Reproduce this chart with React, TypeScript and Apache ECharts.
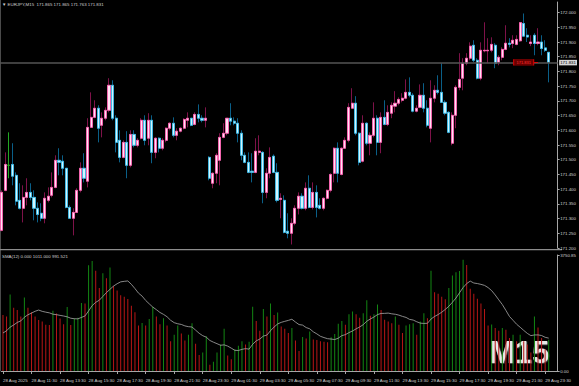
import { useEffect, useRef } from "react";
import * as echarts from "echarts";

const opens = [
  171.260,171.396,171.481,171.484,171.447,171.362,171.335,171.372,171.389,171.372,
  171.335,171.318,171.301,171.362,171.379,171.406,171.498,171.495,171.471,171.338,
  171.301,171.321,171.396,171.471,171.427,171.610,171.644,171.675,171.617,171.641,
  171.668,171.753,171.641,171.566,171.508,171.559,171.481,171.586,171.549,171.573,
  171.634,171.573,171.634,171.525,171.573,171.539,171.566,171.607,171.624,171.583,
  171.597,171.607,171.634,171.641,171.620,171.654,171.641,171.634,171.508,171.420,
  171.454,171.498,171.576,171.590,171.641,171.631,171.624,171.590,171.515,171.491,
  171.461,171.457,171.525,171.525,171.389,171.454,171.512,171.457,171.365,171.362,
  171.257,171.250,171.284,171.335,171.376,171.335,171.403,171.338,171.389,171.345,
  171.335,171.369,171.396,171.454,171.539,171.450,171.539,171.566,171.675,171.692,
  171.590,171.495,171.624,171.556,171.583,171.641,171.559,171.644,171.620,171.658,
  171.682,171.692,171.702,171.709,171.729,171.719,171.665,171.678,171.719,171.675,
  171.607,171.709,171.736,171.729,171.695,171.661,171.556,171.651,171.746,171.777,
  171.828,171.845,171.889,171.838,171.777,171.870,171.870,171.872,171.889,171.831,
  171.848,171.875,171.896,171.895,171.892,171.904,171.963,171.923,171.895,171.923,
  171.895,171.900,171.880,171.865,
];
const closes = [
  171.389,171.484,171.481,171.444,171.359,171.335,171.372,171.389,171.372,171.335,
  171.314,171.301,171.369,171.376,171.406,171.498,171.491,171.471,171.338,171.301,
  171.321,171.396,171.471,171.437,171.610,171.644,171.675,171.607,171.641,171.668,
  171.753,171.641,171.559,171.508,171.559,171.481,171.586,171.549,171.566,171.634,
  171.566,171.634,171.525,171.573,171.539,171.566,171.607,171.624,171.583,171.597,
  171.607,171.637,171.641,171.617,171.654,171.641,171.634,171.641,171.437,171.454,
  171.515,171.576,171.590,171.641,171.631,171.624,171.590,171.515,171.491,171.457,
  171.457,171.529,171.529,171.389,171.454,171.508,171.457,171.362,171.369,171.253,
  171.250,171.284,171.335,171.376,171.335,171.403,171.338,171.389,171.338,171.335,
  171.369,171.396,171.450,171.539,171.454,171.539,171.566,171.678,171.692,171.590,
  171.491,171.624,171.556,171.583,171.641,171.559,171.644,171.620,171.661,171.685,
  171.692,171.705,171.709,171.729,171.719,171.665,171.675,171.719,171.675,171.617,
  171.709,171.736,171.729,171.695,171.658,171.593,171.651,171.746,171.773,171.828,
  171.845,171.886,171.838,171.777,171.872,171.872,171.872,171.892,171.828,171.848,
  171.875,171.896,171.892,171.906,171.909,171.966,171.920,171.917,171.900,171.895,
  171.900,171.878,171.872,171.831,
];
const lows = [
  171.257,171.393,171.437,171.413,171.345,171.331,171.287,171.345,171.362,171.294,
  171.287,171.291,171.284,171.355,171.372,171.403,171.447,171.447,171.335,171.301,
  171.243,171.321,171.389,171.423,171.406,171.610,171.641,171.559,171.576,171.634,
  171.661,171.634,171.525,171.491,171.505,171.437,171.474,171.542,171.542,171.569,
  171.549,171.549,171.488,171.505,171.525,171.532,171.559,171.600,171.576,171.566,
  171.593,171.603,171.610,171.614,171.617,171.627,171.627,171.610,171.430,171.403,
  171.420,171.413,171.573,171.583,171.617,171.617,171.559,171.498,171.488,171.454,
  171.423,171.454,171.515,171.352,171.369,171.437,171.454,171.355,171.301,171.250,
  171.233,171.212,171.277,171.314,171.331,171.328,171.335,171.331,171.304,171.331,
  171.328,171.365,171.389,171.423,171.423,171.447,171.539,171.559,171.675,171.583,
  171.481,171.491,171.549,171.515,171.576,171.515,171.522,171.617,171.614,171.641,
  171.661,171.685,171.695,171.705,171.712,171.661,171.661,171.675,171.661,171.610,
  171.559,171.695,171.722,171.695,171.651,171.590,171.549,171.607,171.736,171.736,
  171.821,171.838,171.831,171.773,171.770,171.865,171.828,171.865,171.811,171.821,
  171.838,171.872,171.882,171.879,171.889,171.900,171.917,171.900,171.886,171.855,
  171.889,171.855,171.866,171.763,
];
const highs = [
  171.396,171.525,171.593,171.556,171.457,171.420,171.413,171.437,171.420,171.396,
  171.355,171.352,171.389,171.406,171.457,171.515,171.539,171.515,171.471,171.345,
  171.335,171.403,171.491,171.522,171.641,171.729,171.702,171.685,171.661,171.678,
  171.777,171.770,171.651,171.600,171.566,171.597,171.600,171.600,171.573,171.641,
  171.651,171.658,171.651,171.576,171.576,171.573,171.610,171.627,171.644,171.607,
  171.610,171.641,171.661,171.641,171.661,171.688,171.651,171.678,171.512,171.457,
  171.522,171.590,171.624,171.641,171.692,171.644,171.641,171.600,171.525,171.525,
  171.522,171.573,171.583,171.529,171.471,171.542,171.518,171.488,171.386,171.379,
  171.318,171.301,171.345,171.389,171.386,171.423,171.447,171.423,171.413,171.369,
  171.372,171.399,171.454,171.542,171.559,171.542,171.576,171.692,171.743,171.716,
  171.593,171.651,171.627,171.593,171.695,171.651,171.661,171.702,171.685,171.695,
  171.733,171.712,171.726,171.773,171.780,171.726,171.685,171.756,171.760,171.702,
  171.770,171.753,171.787,171.828,171.702,171.665,171.661,171.753,171.862,171.845,
  171.862,171.899,171.906,171.845,171.899,171.967,171.913,171.916,171.896,171.855,
  171.882,171.957,171.913,171.923,171.923,171.968,171.997,171.947,171.923,171.930,
  171.947,171.923,171.906,171.865,
];
const volumes = [
  1810,1760,2470,2045,1970,1760,2375,2045,1900,1760,
  1650,1600,1495,1490,1950,1860,1700,1510,2070,1490,
  1700,1720,2200,2180,3420,3560,3240,2680,3160,3000,
  3350,2750,2600,2450,2400,2330,2110,1900,1470,1550,
  1470,1685,2080,1760,1515,1705,1475,965,1175,1475,
  1210,985,1175,1545,880,520,595,1125,200,300,
  595,860,1365,500,380,700,820,965,860,945,
  2080,1620,1305,2005,1760,2185,1810,1895,1440,1365,
  1230,1390,985,645,1100,1050,1280,1015,1000,965,
  945,930,1090,1195,1525,1620,1495,1835,1920,1835,
  1725,1865,2290,1790,1835,2150,1970,1655,1600,1545,
  1760,1495,1230,1475,1515,1545,1175,1600,1865,1705,
  3245,2550,2500,2400,2320,2680,3085,3190,3230,3600,
  3425,2660,2500,2340,2185,2005,1475,1500,1390,1305,
  1390,1335,1070,1175,965,1175,965,860,595,1760,
  1410,1070,700,1011,
];
// volumes of the 11 bars before the first visible bar (needed by SMA(12))
const priorVolumes = [900,1050,1200,1000,1150,950,1100,1250,1050,1180,2100];
const timeTickLabels = [
  "28 Aug 2025","28 Aug 11:30","28 Aug 13:30","28 Aug 15:30","28 Aug 17:30",
  "28 Aug 19:30","28 Aug 21:30","28 Aug 23:30","29 Aug 01:30","29 Aug 03:30",
  "29 Aug 05:30","29 Aug 07:30","29 Aug 09:30","29 Aug 11:30","29 Aug 13:30",
  "29 Aug 15:30","29 Aug 17:30","29 Aug 19:30","29 Aug 21:30","29 Aug 23:30",
];
const headerText = "\u25BC EURJPY,M15  171.865 171.865 171.763 171.831";
const indicatorText = "SMA(12) 0.000 1011.000 991.521";
const timeframeMark = "M15";
const lastPrice = 171.831;
const volumeAxisMax = 3750.85;

const BARS_PER_TICK = 8;
const SLOTS = 156;
const FONT = "Liberation Sans";
const TXT = "#d0d0d0";
const AXIS = "#a6a6a6";

const BULL_FILL = "#ffe2f3";
const BULL_EDGE = "#ff5fb3";
const BULL_WICK = "#7e1249";
const BEAR_FILL = "#d2f5ff";
const BEAR_EDGE = "#39bde9";
const BEAR_WICK = "#0a5f88";
const DOJI = "#22a822";
const VOL_UP = "#138613";
const VOL_DN = "#b81616";

export default function App() {
  const ref = useRef<HTMLDivElement>(null);
  useEffect(() => {
    const el = ref.current;
    if (!el) return;
    const chart = echarts.init(el, null, { renderer: "svg", width: 579, height: 386 });
    const cats = Array.from({ length: SLOTS }, (_, i) => String(i));
    const dojiStyle = {
      color: DOJI, color0: DOJI, borderColor: DOJI, borderColor0: DOJI, borderColorDoji: DOJI,
    };
    const wickData = opens.map((o, i) => {
      const v = [o, closes[i], lows[i], highs[i]];
      return o === closes[i] ? { value: v, itemStyle: dojiStyle } : v;
    });
    const bodyData = opens.map((o, i) => {
      const c = closes[i];
      const v = [o, c, Math.min(o, c), Math.max(o, c)];
      return o === c ? { value: v, itemStyle: dojiStyle } : v;
    });
    const allVol = priorVolumes.concat(volumes);
    const sma = volumes.map((_, i) => {
      let s = 0;
      for (let k = i; k < i + 12; k++) s += allVol[k];
      return +(s / 12).toFixed(3);
    });
    const volData = volumes.map((v, i) => ({
      value: v,
      itemStyle: { color: v > allVol[i + priorVolumes.length - 1] ? VOL_UP : VOL_DN },
    }));
    const isTick = (idx: number) =>
      idx % BARS_PER_TICK === 0 && idx / BARS_PER_TICK < timeTickLabels.length;

    chart.setOption({
      animation: false,
      backgroundColor: "#000000",
      grid: [
        { left: 0, right: 17, top: 2, height: 246 },
        { left: 0, right: 17, top: 255, height: 116 },
      ],
      xAxis: [
        {
          type: "category", gridIndex: 0, data: cats,
          axisLine: { show: false }, axisTick: { show: false }, axisLabel: { show: false },
          splitLine: { show: false },
        },
        {
          type: "category", gridIndex: 1, data: cats,
          axisLine: { show: true, lineStyle: { color: AXIS, width: 1 } },
          axisTick: {
            show: true, alignWithLabel: true, length: 3,
            interval: (idx: number) => isTick(idx),
            lineStyle: { color: AXIS },
          },
          axisLabel: {
            show: true, interval: (idx: number) => isTick(idx),
            formatter: (_v: string, idx: number) => timeTickLabels[idx / BARS_PER_TICK] ?? "",
            align: "left", fontSize: 4.4, fontFamily: FONT, color: TXT, margin: 7,
          },
          splitLine: { show: false },
        },
      ],
      yAxis: [
        {
          type: "value", gridIndex: 0, position: "right", scale: true,
          min: 171.2, max: 172.036, interval: 0.05,
          axisLine: { show: true, lineStyle: { color: AXIS } },
          axisTick: { show: true, length: 2, lineStyle: { color: AXIS } },
          axisLabel: {
            fontSize: 4.4, fontFamily: FONT, color: TXT, margin: 2.5,
            showMaxLabel: false,
            formatter: (v: number) => v.toFixed(3),
          },
          splitLine: { show: false },
        },
        {
          type: "value", gridIndex: 1, position: "right",
          min: 0, max: volumeAxisMax, interval: volumeAxisMax,
          axisLine: { show: true, lineStyle: { color: AXIS } },
          axisTick: { show: true, length: 2, lineStyle: { color: AXIS } },
          axisLabel: {
            fontSize: 4.4, fontFamily: FONT, color: TXT, margin: 2.5,
            formatter: (v: number) => v.toFixed(2),
          },
          splitLine: { show: false },
        },
      ],
      series: [
        {
          type: "candlestick", name: "wicks", xAxisIndex: 0, yAxisIndex: 0,
          data: wickData, barWidth: 2.6, silent: true,
          itemStyle: {
            color: BULL_FILL, color0: BEAR_FILL,
            borderColor: BULL_WICK, borderColor0: BEAR_WICK, borderWidth: 1,
          },
          markLine: {
            silent: true, symbol: ["none", "none"], animation: false,
            data: [
              {
                yAxis: lastPrice,
                lineStyle: { color: "#555555", width: 1.6, type: "solid" },
                label: {
                  show: true, position: "end", distance: 1.5,
                  formatter: lastPrice.toFixed(3), backgroundColor: "#d6d6d6",
                  color: "#000", fontSize: 4.4, fontFamily: FONT, padding: [1, 1, 0.5, 1],
                },
              },
              [
                {
                  coord: ["146", lastPrice],
                  lineStyle: { color: "#d01010", width: 1, type: "solid" },
                  label: { show: false },
                },
                { coord: ["150", lastPrice] },
              ],
            ],
          },
          markPoint: {
            silent: true, animation: false,
            data: [
              {
                coord: ["146", lastPrice], symbol: "rect", symbolSize: [20, 6],
                itemStyle: { color: "#6a0000", borderColor: "#d00000", borderWidth: 0.6 },
                label: {
                  show: true, position: "inside", formatter: lastPrice.toFixed(3),
                  color: "#ff3434", fontSize: 4, fontFamily: FONT,
                },
              },
            ],
          },
        },
        {
          type: "candlestick", name: "bodies", xAxisIndex: 0, yAxisIndex: 0,
          data: bodyData, barWidth: 2.6, silent: true,
          itemStyle: {
            color: BULL_FILL, color0: BEAR_FILL,
            borderColor: BULL_EDGE, borderColor0: BEAR_EDGE, borderWidth: 0.8,
          },
        },
        {
          type: "bar", name: "volume", xAxisIndex: 1, yAxisIndex: 1,
          data: volData, barWidth: 0.9, silent: true,
        },
        {
          type: "line", name: "SMA(12)", xAxisIndex: 1, yAxisIndex: 1,
          data: sma, showSymbol: false, symbol: "none", silent: true,
          lineStyle: { color: "#aaaaaa", width: 0.8 },
        },
      ],
      graphic: [
        {
          type: "line", silent: true,
          shape: { x1: 0.5, y1: 0, x2: 0.5, y2: 371 },
          style: { stroke: "#4a4a4a", lineWidth: 1 },
        },
        {
          type: "rect", silent: true,
          shape: { x: 0, y: 249, width: 562, height: 1.3 },
          style: { fill: "#8c8c8c" },
        },
        {
          type: "text", silent: true, x: 2, y: 2.5,
          style: { text: headerText, fill: TXT, fontSize: 4.4, fontFamily: FONT, verticalAlign: "top" },
        },
        {
          type: "text", silent: true, x: 2, y: 254.5,
          style: { text: indicatorText, fill: TXT, fontSize: 4.4, fontFamily: FONT, verticalAlign: "top" },
        },
        {
          type: "text", silent: true, x: 489, y: 352,
          style: {
            text: timeframeMark, fill: "#e6e6e6", fontSize: 31, fontWeight: "bold",
            fontFamily: FONT, verticalAlign: "middle",
            textShadowColor: "#777777", textShadowBlur: 1, textShadowOffsetX: 0.6, textShadowOffsetY: 0.6,
          },
        },
      ],
    });
    return () => chart.dispose();
  }, []);
  return (
    <div
      ref={ref}
      style={{ position: "fixed", left: 0, top: 0, width: 579, height: 386, background: "#000" }}
    />
  );
}
